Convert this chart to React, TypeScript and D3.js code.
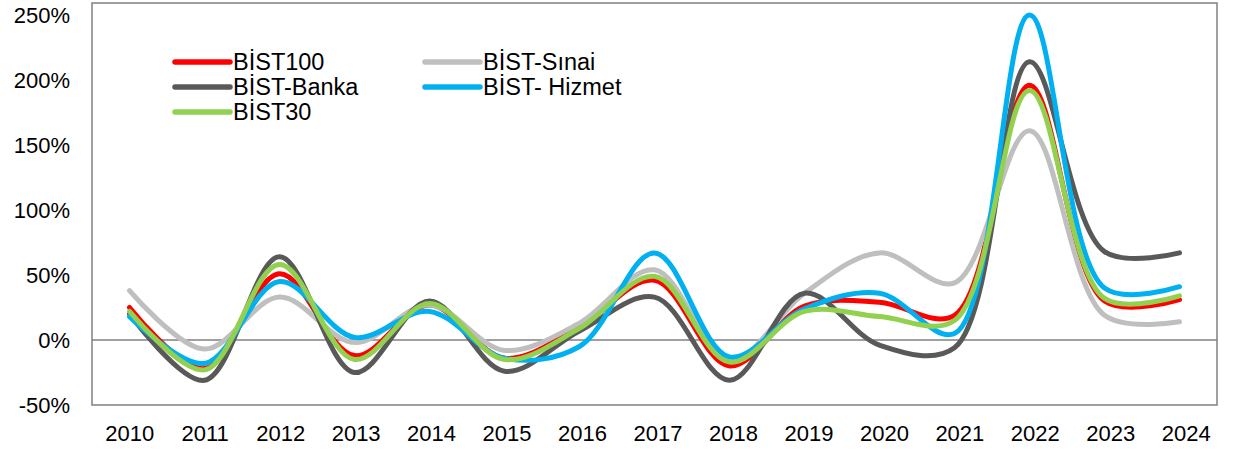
import React from "react";
import * as d3 from "d3";

const years = ["2010","2011","2012","2013","2014","2015","2016","2017","2018","2019","2020","2021","2022","2023","2024"];
const bist100 = [25, -22, 51, -12, 27, -14, 10, 46, -20, 26, 29, 19, 196, 30, 31];
const sinai = [38, -7, 33, -2, 27, -8, 13, 54, -16, 36, 67, 44, 161, 19, 14];
const banka = [20, -31, 64, -25, 30, -24, 7, 33, -31, 36, -4, -6, 214, 68, 67];
const hizmet = [18, -18, 45, 2, 22, -14, -5, 67, -13, 24, 36, 5, 250, 40, 41];
const bist30 = [22, -23, 58, -15, 28, -15, 9, 49, -17, 22, 18, 15, 192, 32, 34];
const yTicks = [-50, 0, 50, 100, 150, 200, 250];

const series = [
  { name: "BİST100", values: bist100, color: "#FF0000" },
  { name: "BİST-Sınai", values: sinai, color: "#BFBFBF" },
  { name: "BİST-Banka", values: banka, color: "#595959" },
  { name: "BİST- Hizmet", values: hizmet, color: "#00B0F0" },
  { name: "BİST30", values: bist30, color: "#92D050" },
];

const W = 1234, H = 450;
const left = 92, right = 1217, top = 3, bottom = 405;
const FONT = "'Liberation Sans', Arial, sans-serif";

export default function App() {
  const x = d3.scalePoint<string>().domain(years).range([left, right]).padding(0.5);
  const xLabel = d3.scalePoint<string>().domain(years).range([left, right + 7]).padding(0.5);
  const y = d3.scaleLinear().domain([-50, 250]).range([bottom, 15]);
  const line = d3
    .line<number>()
    .x((_, i) => x(years[i]) as number)
    .y((d) => y(d))
    .curve(d3.curveCatmullRom.alpha(0.5));

  const legendPos = [
    { x: 175, y: 62 },
    { x: 425, y: 62 },
    { x: 175, y: 87 },
    { x: 425, y: 87 },
    { x: 175, y: 112 },
  ];

  return (
    <svg width={W} height={H} style={{ position: "absolute", left: 0, top: 0, background: "#fff" }} fontFamily={FONT}>
      <rect x={0} y={0} width={W} height={H} fill="#fff" />
      <rect x={left} y={top} width={right - left} height={bottom - top} fill="none" stroke="#808080" strokeWidth={1.5} />
      <line x1={left} x2={right} y1={y(0)} y2={y(0)} stroke="#808080" strokeWidth={1.5} />
      {yTicks.map((t) => (
        <text key={t} x={70} y={y(t)} dy="0.36em" textAnchor="end" fontSize={22} fill="#000">
          {t}%
        </text>
      ))}
      {years.map((yr) => (
        <text key={yr} x={xLabel(yr) as number} y={433} dy="0.36em" textAnchor="middle" fontSize={22} fill="#000">
          {yr}
        </text>
      ))}
      {series.map((s) => (
        <path key={s.name} d={line(s.values) || ""} fill="none" stroke={s.color} strokeWidth={5} strokeLinejoin="round" strokeLinecap="round" />
      ))}
      {series.map((s, i) => (
        <g key={s.name + "-lg"}>
          <line x1={legendPos[i].x} x2={legendPos[i].x + 55} y1={legendPos[i].y} y2={legendPos[i].y} stroke={s.color} strokeWidth={5.5} strokeLinecap="round" />
          <text x={legendPos[i].x + 58} y={legendPos[i].y} dy="0.36em" fontSize={23.5} fill="#000">
            {s.name}
          </text>
        </g>
      ))}
    </svg>
  );
}
